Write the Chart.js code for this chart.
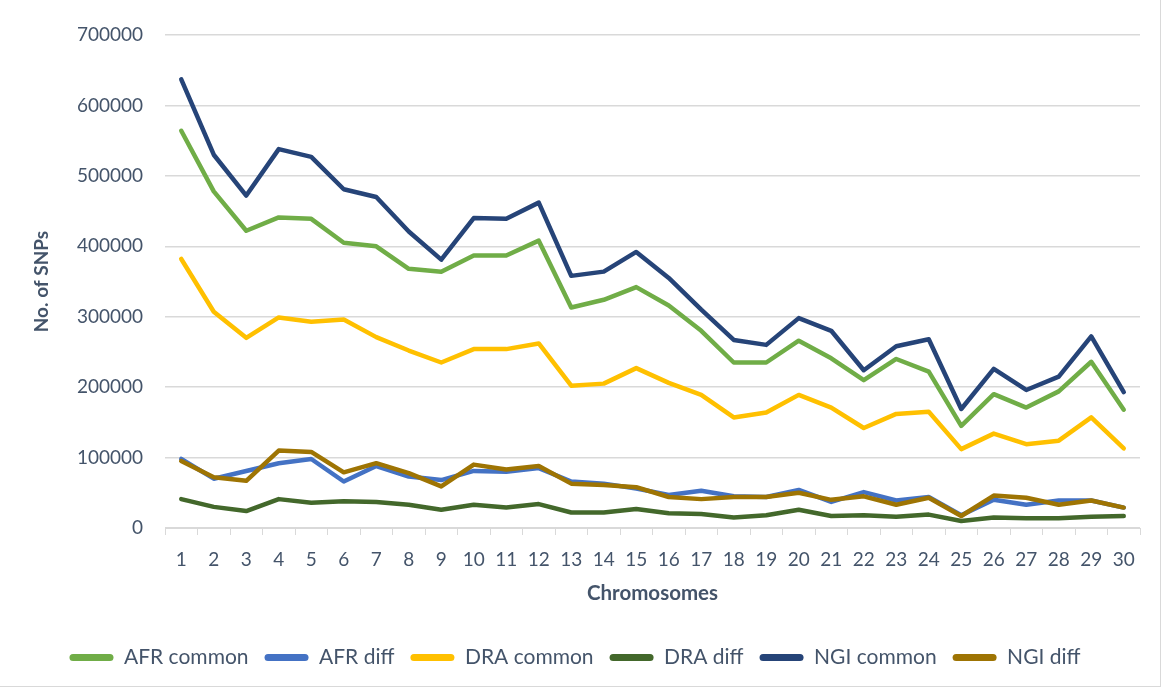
<!DOCTYPE html>
<html>
<head>
<meta charset="utf-8">
<script src="https://cdn.jsdelivr.net/npm/chart.js@4.4.1/dist/chart.umd.min.js"></script>
<style>
  html, body { margin: 0; padding: 0; background: #ffffff; }
  #wrap { position: relative; width: 1161px; height: 687px; box-sizing: border-box; border-right: 1px solid #d9d9d9; border-bottom: 1px solid #d9d9d9; }
  canvas { display: block; }
</style>
</head>
<body>
<div id="wrap"><canvas id="c" width="1160" height="686"></canvas></div>
<script>
const chromosomes = ['1','2','3','4','5','6','7','8','9','10','11','12','13','14','15','16','17','18','19','20','21','22','23','24','25','26','27','28','29','30'];
const afrCommon = [564000,478000,422000,441000,439000,405000,400000,368000,364000,387000,387000,408000,313000,324000,342000,316000,280000,235000,235000,266000,241000,210000,240000,222000,145000,190000,171000,194000,236000,168000];
const afrDiff   = [98000,70000,81000,92000,98000,66000,88000,73000,68000,81000,80000,85000,66000,63000,56000,47000,53000,45000,44000,54000,37000,51000,39000,44000,18000,40000,33000,39000,39000,29000];
const draCommon = [382000,307000,270000,299000,293000,296000,271000,252000,235000,254000,254000,262000,202000,205000,227000,206000,189000,157000,164000,189000,171000,142000,162000,165000,112000,134000,119000,124000,157000,113000];
const draDiff   = [41000,30000,24000,41000,36000,38000,37000,33000,26000,33000,29000,34000,22000,22000,27000,21000,20000,15000,18000,26000,17000,18000,16000,19000,10000,15000,14000,14000,16000,17000];
const ngiCommon = [637000,530000,472000,538000,527000,481000,470000,421000,381000,440000,439000,462000,358000,364000,392000,355000,310000,267000,260000,298000,280000,224000,258000,268000,169000,226000,196000,215000,272000,193000];
const ngiDiff   = [95000,72000,67000,110000,108000,79000,92000,78000,59000,90000,83000,88000,63000,61000,58000,44000,41000,44000,44000,50000,40000,45000,33000,43000,17000,46000,43000,33000,39000,29000];
const seriesNames = ['AFR common','AFR diff','DRA common','DRA diff','NGI common','NGI diff'];
const seriesData = [afrCommon, afrDiff, draCommon, draDiff, ngiCommon, ngiDiff];
const seriesColors = ['#70ad47','#4472c4','#ffc000','#43682b','#264478','#9e7403'];
const yTicks = [0,100000,200000,300000,400000,500000,600000,700000];

const textColor = '#44546a';
const fontFamily = 'Lato, "Open Sans", sans-serif';

const datasets = seriesNames.map((name, i) => ({
  label: name,
  data: seriesData[i],
  borderColor: seriesColors[i],
  backgroundColor: seriesColors[i],
  borderWidth: 4.5,
  borderCapStyle: 'round',
  borderJoinStyle: 'round',
  pointRadius: 0,
  pointHoverRadius: 0,
  tension: 0,
  fill: false,
  order: seriesNames.length - i
}));

new Chart(document.getElementById('c'), {
  type: 'line',
  data: { labels: chromosomes, datasets },
  options: {
    responsive: false,
    animation: false,
    events: [],
    layout: { padding: { left: 10, right: 20, top: 35, bottom: 8 } },
    plugins: {
      tooltip: { enabled: false },
      legend: {
        position: 'bottom',
        labels: {
          color: textColor,
          font: { family: fontFamily, size: 21 },
          boxWidth: 44,
          boxHeight: 7,
          padding: 16,
          sort: (a, b) => a.datasetIndex - b.datasetIndex,
          generateLabels: (chart) => chart.data.datasets.map((ds, i) => ({
            text: ds.label,
            fillStyle: ds.borderColor,
            strokeStyle: ds.borderColor,
            lineWidth: 0,
            fontColor: textColor,
            datasetIndex: i,
            borderRadius: 3.5
          }))
        }
      }
    },
    scales: {
      x: {
        offset: true,
        afterFit: (s) => { s.height = 103; },
        grid: { offset: true, drawOnChartArea: false, drawTicks: true, tickLength: 7, color: '#d9d9d9' },
        border: { color: '#d9d9d9', width: 1 },
        ticks: { color: textColor, font: { family: fontFamily, size: 19 }, padding: 13, maxRotation: 0, autoSkip: false },
        title: { display: true, text: 'Chromosomes', color: textColor, font: { family: fontFamily, size: 20.5, weight: 'bold' }, padding: { top: 8, bottom: 25 } }
      },
      y: {
        min: 0,
        max: 700000,
        afterBuildTicks: (s) => { s.ticks = yTicks.map(v => ({ value: v })); },
        afterFit: (s) => { s.width = 155; },
        grid: { color: '#d9d9d9', lineWidth: 1.5, drawTicks: false },
        border: { display: false },
        ticks: { color: textColor, font: { family: fontFamily, size: 19 }, padding: 22, callback: (v) => String(v) },
        title: { display: true, text: 'No. of SNPs', color: textColor, font: { family: fontFamily, size: 19, weight: 'bold' }, padding: { top: 20, bottom: 0 } }
      }
    }
  }
});
</script>
</body>
</html>
